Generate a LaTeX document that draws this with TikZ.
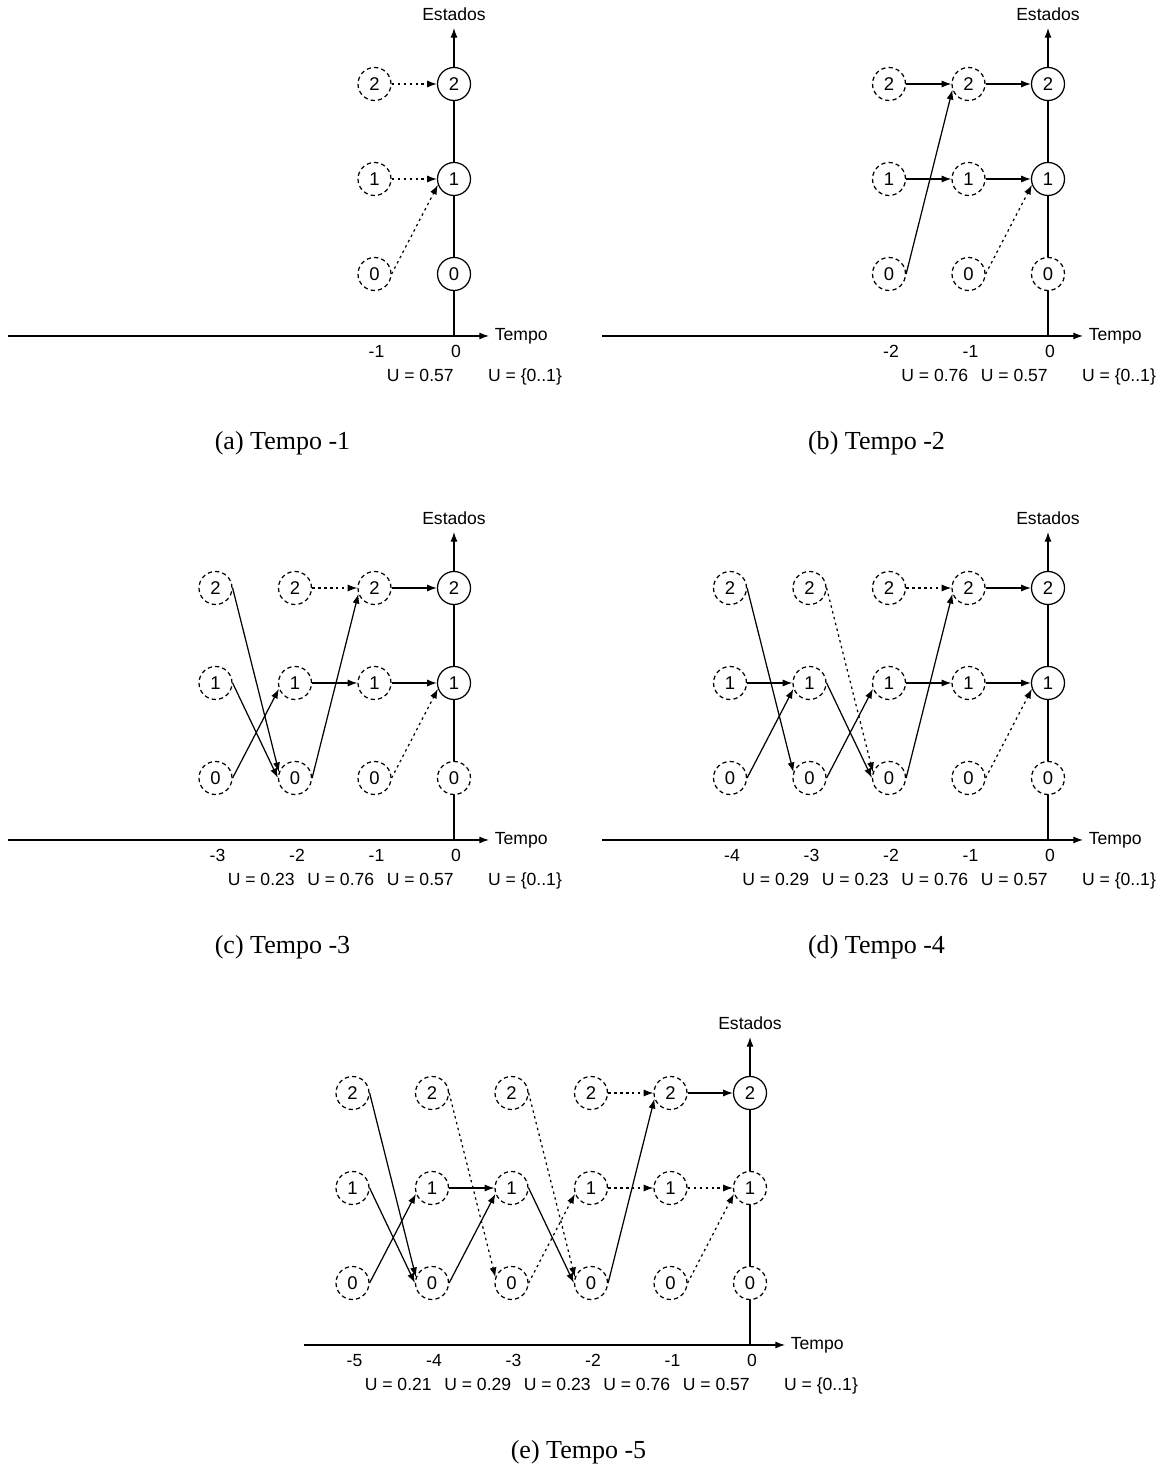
\documentclass[tikz,border=0pt]{standalone}
\usepackage{fontspec}
\setmainfont{Liberation Serif}
\newfontfamily\arial{Liberation Sans}
\usetikzlibrary{
  arrows.meta,
  positioning
}

\begin{document}
\begin{tikzpicture}[
      >={Latex[length=5.5pt,width=4pt]},
      line width=0.7pt,
      estado/.style={circle, draw, fill=white, minimum size=0.66cm, inner sep=0pt, font=\arial\fontsize{10.5}{12}\selectfont},
      vazio/.style={estado, dash pattern=on 2.4pt off 1.8pt},
      rotulo/.style={font=\arial\fontsize{10}{12}\selectfont, inner sep=2pt, text height=7.5pt, text depth=2pt},
      legenda/.style={font=\fontsize{14.8}{18}\selectfont},
      eixo/.style={->},
      seta/.style={->},
      pont/.style={->, dash pattern=on 1.4pt off 2pt}
  ]
      \useasboundingbox (0,0) rectangle (23.26,29.38);

      % (a) Tempo -1
      \begin{scope}[shift={(9.08,22.66)}, name prefix=a-]
        \coordinate (o) at (0,0);
        \coordinate (xi) at (-8.92,0);
        \coordinate (xf) at (0.7,0);
        \coordinate (yf) at (0,6.16);
        \draw[eixo] (xi) -- (xf);
        \draw[eixo] (o) -- (yf);
        \node[rotulo, right=1pt] (tempo) at (xf) {Tempo};
        \node[rotulo, above=0pt] (estados) at (yf) {Estados};
        \foreach \tp/\val in {1/0.57}{
          \foreach \est in {0,1,2}
            \node[vazio] (t\tp-\est) at ({-1.59*\tp}, {1.24+1.9*\est}) {\est};
          \node[rotulo] (x\tp) at ({-1.59*\tp+0.04}, -0.34) {-\tp};
          \node[rotulo] (u\tp) at ({-1.59*\tp+0.915}, -0.82) {U = \val};
        }
        \node[estado] (t0-2) at (0,5.04) {2};
        \node[estado] (t0-1) at (0,3.14) {1};
        \node[estado] (t0-0) at (0,1.24) {0};
        \node[rotulo] (x0) at (0.04,-0.34) {0};
        \node[rotulo] (u0) at (1.42,-0.82) {U = \{0..1\}};
        % transicoes
        \draw[pont] (t1-2.east) -- (t0-2.west);
        \draw[pont] (t1-1.east) -- (t0-1.west);
        \draw[pont] (t1-0.east) -- (t0-1.200);
        \node[legenda] (leg) at (-3.43,-2.15) {(a) Tempo -1};
      \end{scope}

      % (b) Tempo -2
      \begin{scope}[shift={(20.96,22.66)}, name prefix=b-]
        \coordinate (o) at (0,0);
        \coordinate (xi) at (-8.92,0);
        \coordinate (xf) at (0.7,0);
        \coordinate (yf) at (0,6.16);
        \draw[eixo] (xi) -- (xf);
        \draw[eixo] (o) -- (yf);
        \node[rotulo, right=1pt] (tempo) at (xf) {Tempo};
        \node[rotulo, above=0pt] (estados) at (yf) {Estados};
        \foreach \tp/\val in {1/0.57, 2/0.76}{
          \foreach \est in {0,1,2}
            \node[vazio] (t\tp-\est) at ({-1.59*\tp}, {1.24+1.9*\est}) {\est};
          \node[rotulo] (x\tp) at ({-1.59*\tp+0.04}, -0.34) {-\tp};
          \node[rotulo] (u\tp) at ({-1.59*\tp+0.915}, -0.82) {U = \val};
        }
        \node[estado] (t0-2) at (0,5.04) {2};
        \node[estado] (t0-1) at (0,3.14) {1};
        \node[vazio] (t0-0) at (0,1.24) {0};
        \node[rotulo] (x0) at (0.04,-0.34) {0};
        \node[rotulo] (u0) at (1.42,-0.82) {U = \{0..1\}};
        % transicoes
        \draw[seta] (t2-2.east) -- (t1-2.west);
        \draw[seta] (t2-1.east) -- (t1-1.west);
        \draw[seta] (t2-0.east) -- (t1-2.200);
        \draw[seta] (t1-2.east) -- (t0-2.west);
        \draw[seta] (t1-1.east) -- (t0-1.west);
        \draw[pont] (t1-0.east) -- (t0-1.200);
        \node[legenda] (leg) at (-3.43,-2.15) {(b) Tempo -2};
      \end{scope}

      % (c) Tempo -3
      \begin{scope}[shift={(9.08,12.58)}, name prefix=c-]
        \coordinate (o) at (0,0);
        \coordinate (xi) at (-8.92,0);
        \coordinate (xf) at (0.7,0);
        \coordinate (yf) at (0,6.16);
        \draw[eixo] (xi) -- (xf);
        \draw[eixo] (o) -- (yf);
        \node[rotulo, right=1pt] (tempo) at (xf) {Tempo};
        \node[rotulo, above=0pt] (estados) at (yf) {Estados};
        \foreach \tp/\val in {1/0.57, 2/0.76, 3/0.23}{
          \foreach \est in {0,1,2}
            \node[vazio] (t\tp-\est) at ({-1.59*\tp}, {1.24+1.9*\est}) {\est};
          \node[rotulo] (x\tp) at ({-1.59*\tp+0.04}, -0.34) {-\tp};
          \node[rotulo] (u\tp) at ({-1.59*\tp+0.915}, -0.82) {U = \val};
        }
        \node[estado] (t0-2) at (0,5.04) {2};
        \node[estado] (t0-1) at (0,3.14) {1};
        \node[vazio] (t0-0) at (0,1.24) {0};
        \node[rotulo] (x0) at (0.04,-0.34) {0};
        \node[rotulo] (u0) at (1.42,-0.82) {U = \{0..1\}};
        % transicoes
        \draw[seta] (t3-2.east) -- (t2-0.160);
        \draw[seta] (t3-1.east) -- (t2-0.west);
        \draw[seta] (t3-0.east) -- (t2-1.200);
        \draw[pont] (t2-2.east) -- (t1-2.west);
        \draw[seta] (t2-1.east) -- (t1-1.west);
        \draw[seta] (t2-0.east) -- (t1-2.200);
        \draw[seta] (t1-2.east) -- (t0-2.west);
        \draw[seta] (t1-1.east) -- (t0-1.west);
        \draw[pont] (t1-0.east) -- (t0-1.200);
        \node[legenda] (leg) at (-3.43,-2.15) {(c) Tempo -3};
      \end{scope}

      % (d) Tempo -4
      \begin{scope}[shift={(20.96,12.58)}, name prefix=d-]
        \coordinate (o) at (0,0);
        \coordinate (xi) at (-8.92,0);
        \coordinate (xf) at (0.7,0);
        \coordinate (yf) at (0,6.16);
        \draw[eixo] (xi) -- (xf);
        \draw[eixo] (o) -- (yf);
        \node[rotulo, right=1pt] (tempo) at (xf) {Tempo};
        \node[rotulo, above=0pt] (estados) at (yf) {Estados};
        \foreach \tp/\val in {1/0.57, 2/0.76, 3/0.23, 4/0.29}{
          \foreach \est in {0,1,2}
            \node[vazio] (t\tp-\est) at ({-1.59*\tp}, {1.24+1.9*\est}) {\est};
          \node[rotulo] (x\tp) at ({-1.59*\tp+0.04}, -0.34) {-\tp};
          \node[rotulo] (u\tp) at ({-1.59*\tp+0.915}, -0.82) {U = \val};
        }
        \node[estado] (t0-2) at (0,5.04) {2};
        \node[estado] (t0-1) at (0,3.14) {1};
        \node[vazio] (t0-0) at (0,1.24) {0};
        \node[rotulo] (x0) at (0.04,-0.34) {0};
        \node[rotulo] (u0) at (1.42,-0.82) {U = \{0..1\}};
        % transicoes
        \draw[seta] (t4-2.east) -- (t3-0.160);
        \draw[seta] (t4-1.east) -- (t3-1.west);
        \draw[seta] (t4-0.east) -- (t3-1.200);
        \draw[pont] (t3-2.east) -- (t2-0.160);
        \draw[seta] (t3-1.east) -- (t2-0.west);
        \draw[seta] (t3-0.east) -- (t2-1.200);
        \draw[pont] (t2-2.east) -- (t1-2.west);
        \draw[seta] (t2-1.east) -- (t1-1.west);
        \draw[seta] (t2-0.east) -- (t1-2.200);
        \draw[seta] (t1-2.east) -- (t0-2.west);
        \draw[seta] (t1-1.east) -- (t0-1.west);
        \draw[pont] (t1-0.east) -- (t0-1.200);
        \node[legenda] (leg) at (-3.43,-2.15) {(d) Tempo -4};
      \end{scope}

      % (e) Tempo -5
      \begin{scope}[shift={(15.0,2.48)}, name prefix=e-]
        \coordinate (o) at (0,0);
        \coordinate (xi) at (-8.92,0);
        \coordinate (xf) at (0.7,0);
        \coordinate (yf) at (0,6.16);
        \draw[eixo] (xi) -- (xf);
        \draw[eixo] (o) -- (yf);
        \node[rotulo, right=1pt] (tempo) at (xf) {Tempo};
        \node[rotulo, above=0pt] (estados) at (yf) {Estados};
        \foreach \tp/\val in {1/0.57, 2/0.76, 3/0.23, 4/0.29, 5/0.21}{
          \foreach \est in {0,1,2}
            \node[vazio] (t\tp-\est) at ({-1.59*\tp}, {1.24+1.9*\est}) {\est};
          \node[rotulo] (x\tp) at ({-1.59*\tp+0.04}, -0.34) {-\tp};
          \node[rotulo] (u\tp) at ({-1.59*\tp+0.915}, -0.82) {U = \val};
        }
        \node[estado] (t0-2) at (0,5.04) {2};
        \node[vazio] (t0-1) at (0,3.14) {1};
        \node[vazio] (t0-0) at (0,1.24) {0};
        \node[rotulo] (x0) at (0.04,-0.34) {0};
        \node[rotulo] (u0) at (1.42,-0.82) {U = \{0..1\}};
        % transicoes
        \draw[seta] (t5-2.east) -- (t4-0.160);
        \draw[seta] (t5-1.east) -- (t4-0.west);
        \draw[seta] (t5-0.east) -- (t4-1.200);
        \draw[pont] (t4-2.east) -- (t3-0.160);
        \draw[seta] (t4-1.east) -- (t3-1.west);
        \draw[seta] (t4-0.east) -- (t3-1.200);
        \draw[pont] (t3-2.east) -- (t2-0.160);
        \draw[seta] (t3-1.east) -- (t2-0.west);
        \draw[pont] (t3-0.east) -- (t2-1.200);
        \draw[pont] (t2-2.east) -- (t1-2.west);
        \draw[pont] (t2-1.east) -- (t1-1.west);
        \draw[seta] (t2-0.east) -- (t1-2.200);
        \draw[seta] (t1-2.east) -- (t0-2.west);
        \draw[pont] (t1-1.east) -- (t0-1.west);
        \draw[pont] (t1-0.east) -- (t0-1.200);
        \node[legenda] (leg) at (-3.43,-2.15) {(e) Tempo -5};
      \end{scope}
  \end{tikzpicture}
\end{document}
